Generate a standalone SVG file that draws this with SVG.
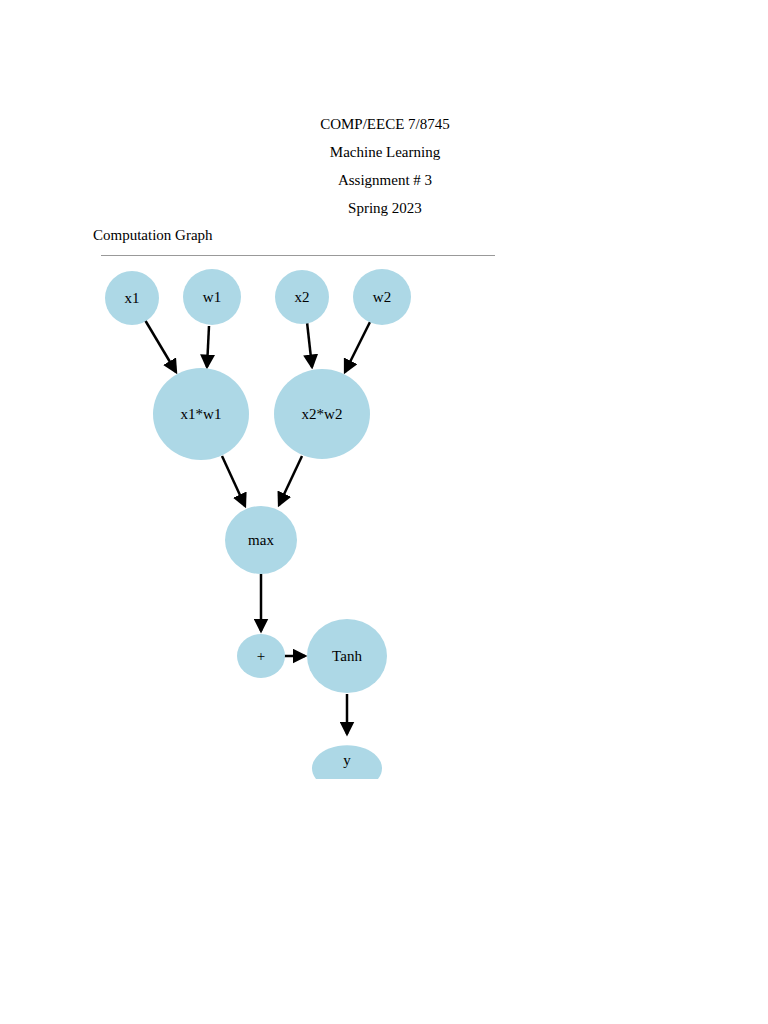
<svg xmlns="http://www.w3.org/2000/svg" width="768" height="1024" viewBox="0 0 768 1024">
<style>
text{font-family:"Liberation Serif",serif;font-size:15px;fill:#000}
.c{text-anchor:middle}
.n{fill:#add8e6}
.e{stroke:#000;stroke-width:2.5;fill:none;marker-end:url(#a)}
</style>
<defs><marker id="a" markerWidth="6" markerHeight="6" refX="5" refY="3" orient="auto" markerUnits="strokeWidth"><path d="M0,0 L6,3 L0,6 z" fill="#000"/></marker></defs>
<rect width="768" height="1024" fill="#fff"/>
<text class="c" x="385" y="129">COMP/EECE 7/8745</text>
<text class="c" x="385" y="157">Machine Learning</text>
<text class="c" x="385" y="185">Assignment # 3</text>
<text class="c" x="385" y="213">Spring 2023</text>
<text x="93" y="240">Computation Graph</text>
<line x1="101" y1="255.5" x2="495" y2="255.5" stroke="#999" stroke-width="1"/>
<g id="edges">
<line class="e" x1="145" y1="320" x2="176" y2="372"/>
<line class="e" x1="209" y1="326" x2="207" y2="367"/>
<line class="e" x1="307" y1="322" x2="312" y2="367"/>
<line class="e" x1="370" y1="322" x2="345" y2="372"/>
<line class="e" x1="222" y1="456" x2="245" y2="506"/>
<line class="e" x1="302" y1="456" x2="279" y2="505"/>
<line class="e" x1="261" y1="574" x2="261" y2="631"/>
<line class="e" x1="284" y1="656" x2="305" y2="656"/>
<line class="e" x1="347" y1="694" x2="347" y2="734"/>
</g>
<g id="x1"><ellipse class="n" cx="132" cy="298" rx="27" ry="27"/><text class="c" x="132" y="303">x1</text></g>
<g id="w1"><ellipse class="n" cx="212" cy="297" rx="29" ry="28"/><text class="c" x="212" y="302">w1</text></g>
<g id="x2"><ellipse class="n" cx="302" cy="297" rx="27" ry="27"/><text class="c" x="302" y="302">x2</text></g>
<g id="w2"><ellipse class="n" cx="382" cy="297" rx="29" ry="28"/><text class="c" x="382" y="302">w2</text></g>
<g id="x1w1"><ellipse class="n" cx="201" cy="414" rx="48" ry="46"/><text class="c" x="201" y="419">x1*w1</text></g>
<g id="x2w2"><ellipse class="n" cx="322" cy="414" rx="48" ry="45"/><text class="c" x="322" y="419">x2*w2</text></g>
<g id="max"><ellipse class="n" cx="261" cy="540" rx="36" ry="34"/><text class="c" x="261" y="545">max</text></g>
<g id="plus"><ellipse class="n" cx="261" cy="656" rx="24" ry="22"/><text class="c" x="261" y="661">+</text></g>
<g id="tanh"><ellipse class="n" cx="347" cy="656" rx="40" ry="37"/><text class="c" x="347" y="661">Tanh</text></g>
<g id="y"><path class="n" d="M316,779 A35,23 0 1 1 378,779 Z"/><text class="c" x="347" y="765">y</text></g>
</svg>
